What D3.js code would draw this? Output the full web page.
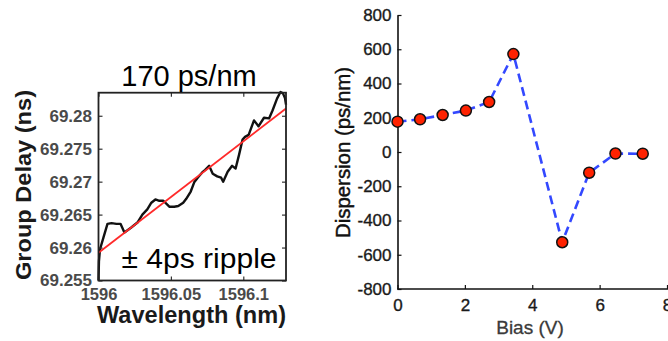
<!DOCTYPE html>
<html><head><meta charset="utf-8">
<script src="https://cdn.jsdelivr.net/npm/d3@7"></script>
<style>body{margin:0;background:#fff;} svg{display:block;font-family:"Liberation Sans",Arial,Helvetica,sans-serif;}</style>
</head><body><svg id="c" width="668" height="341"></svg>
<script>
// ---- Left panel: group delay vs wavelength ----
const gdWavelength = [1596.0000,1596.0003,1596.0010,1596.0034,1596.0062,1596.0090,1596.0124,1596.0152,1596.0179,1596.0224,
  1596.0269,1596.0303,1596.0337,1596.0365,1596.0393,1596.0420,1596.0448,1596.0489,1596.0523,1596.0551,
  1596.0585,1596.0606,1596.0637,1596.0661,1596.0685,1596.0716,1596.0737,1596.0764,1596.0789,1596.0820,
  1596.0847,1596.0861,1596.0892,1596.0923,1596.0947,1596.0971,1596.0995,1596.1012,1596.1037,1596.1074,
  1596.1105,1596.1143,1596.1178,1596.1202,1596.1233,1596.1257,1596.1274,1596.1288,1596.1295];
const gdDelay = [69.2550,69.2579,69.2597,69.2615,69.2636,69.2637,69.2636,69.2636,69.2623,69.2630,
  69.2638,69.2650,69.2658,69.2668,69.2673,69.2671,69.2671,69.2662,69.2662,69.2663,
  69.2668,69.2674,69.2685,69.2699,69.2706,69.2714,69.2718,69.2724,69.2712,69.2708,
  69.2706,69.2700,69.2715,69.2724,69.2720,69.2741,69.2764,69.2768,69.2771,69.2793,
  69.2784,69.2797,69.2796,69.2808,69.2826,69.2836,69.2834,69.2827,69.2817];
const fitWavelength = [1596.0, 1596.1295];
const fitDelay = [69.2592, 69.2811];
const gdXDomain = [1596.0, 1596.1295];
const gdYDomain = [69.255, 69.2835];
const gdXTicks = [1596, 1596.05, 1596.1];
const gdXTickLabels = ["1596", "1596.05", "1596.1"];
const gdYTicks = [69.255, 69.26, 69.265, 69.27, 69.275, 69.28];
const gdYTickLabels = ["69.255", "69.26", "69.265", "69.27", "69.275", "69.28"];
const gdTitle = "170 ps/nm";
const gdNote = "± 4ps ripple";

// ---- Right panel: dispersion vs bias ----
const biasV = [0, 0.67, 1.34, 2.03, 2.72, 3.44, 4.89, 5.69, 6.47, 7.28];
const dispersion = [177, 191, 216, 242, 292, 572, -527, -121, -9, -10];
const dispXTicks = [0, 2, 4, 6, 8];
const dispXTickLabels = ["0", "2", "4", "6", "8"];
const dispYTicks = [-800, -600, -400, -200, 0, 200, 400, 600, 800];
const dispYTickLabels = ["-800", "-600", "-400", "-200", "0", "200", "400", "600", "800"];

const svg = d3.select("#c");

// ===== Left panel =====
const L = {x0: 98.5, x1: 286, y0: 92.7, y1: 280.5};
const lx = d3.scaleLinear().domain(gdXDomain).range([L.x0, L.x1]);
const ly = d3.scaleLinear().domain(gdYDomain).range([L.y1, L.y0]);
const left = svg.append("g");

left.append("path")
  .datum(d3.range(gdWavelength.length))
  .attr("fill", "none").attr("stroke", "#111").attr("stroke-width", 2.4)
  .attr("stroke-linejoin", "round")
  .attr("d", d3.line().x(i => lx(gdWavelength[i])).y(i => ly(gdDelay[i])));
left.append("path")
  .datum(d3.range(fitWavelength.length))
  .attr("fill", "none").attr("stroke", "#ff2a2a").attr("stroke-width", 1.8)
  .attr("d", d3.line().x(i => lx(fitWavelength[i])).y(i => ly(fitDelay[i])));

function styleAxis(g, color, size, weight) {
  g.select(".domain").remove();
  g.selectAll(".tick line").attr("stroke", "#333").attr("stroke-width", 1.2);
  g.selectAll(".tick text").attr("fill", color).style("font-size", size + "px")
    .style("font-weight", weight).style("font-family", '"Liberation Sans",Arial,sans-serif');
}

const lb = left.append("g").attr("transform", `translate(0,${L.y1})`)
  .call(d3.axisBottom(lx).tickValues(gdXTicks).tickFormat((d, i) => gdXTickLabels[i])
    .tickSizeInner(-4).tickSizeOuter(0).tickPadding(8));
styleAxis(lb, "#4a4a4a", 16.5, "bold");
const lt = left.append("g").attr("transform", `translate(0,${L.y0})`)
  .call(d3.axisTop(lx).tickValues(gdXTicks).tickFormat("").tickSizeInner(-4).tickSizeOuter(0));
styleAxis(lt, "#000", 10, "normal");
const ll = left.append("g").attr("transform", `translate(${L.x0},0)`)
  .call(d3.axisLeft(ly).tickValues(gdYTicks).tickFormat((d, i) => gdYTickLabels[i])
    .tickSizeInner(-4).tickSizeOuter(0).tickPadding(6.5));
styleAxis(ll, "#4a4a4a", 17, "bold");
const lr = left.append("g").attr("transform", `translate(${L.x1},0)`)
  .call(d3.axisRight(ly).tickValues(gdYTicks).tickFormat("").tickSizeInner(-4).tickSizeOuter(0));
styleAxis(lr, "#000", 10, "normal");

left.append("rect").attr("x", L.x0).attr("y", L.y0)
  .attr("width", L.x1 - L.x0).attr("height", L.y1 - L.y0)
  .attr("fill", "none").attr("stroke", "#222").attr("stroke-width", 1.8);

left.append("text").attr("x", 189).attr("y", 86).attr("text-anchor", "middle")
  .style("font-size", "29px").attr("fill", "#000").text(gdTitle);
left.append("text").attr("x", 121.5).attr("y", 268).attr("text-anchor", "start")
  .style("font-size", "27px").attr("fill", "#000")
  .attr("textLength", 155).attr("lengthAdjust", "spacingAndGlyphs").text(gdNote);
left.append("text").attr("x", 191.5).attr("y", 323).attr("text-anchor", "middle")
  .style("font-size", "23px").style("font-weight", "bold").attr("fill", "#1a1a1a")
  .attr("textLength", 189).attr("lengthAdjust", "spacingAndGlyphs").text("Wavelength (nm)");
left.append("text").attr("transform", "translate(31,185) rotate(-90)").attr("text-anchor", "middle")
  .style("font-size", "22px").style("font-weight", "bold").attr("fill", "#1a1a1a")
  .attr("textLength", 190).attr("lengthAdjust", "spacingAndGlyphs").text("Group Delay (ns)");

// ===== Right panel =====
const R = {x0: 397.5, x1: 667, y0: 15, y1: 289};
const rx = d3.scaleLinear().domain([0, 8]).range([R.x0, R.x1]);
const ry = d3.scaleLinear().domain([-800, 800]).range([R.y1, R.y0]);
const right = svg.append("g");

const rbx = right.append("g").attr("transform", `translate(0,${R.y1})`)
  .call(d3.axisBottom(rx).tickValues(dispXTicks).tickFormat((d, i) => dispXTickLabels[i])
    .tickSizeInner(-4).tickSizeOuter(0).tickPadding(10));
rbx.select(".domain").attr("stroke", "#111").attr("stroke-width", 1.6).attr("d", `M${R.x0},0H668`);
rbx.selectAll(".tick line").attr("stroke", "#111").attr("stroke-width", 1.2);
rbx.selectAll(".tick text").attr("fill", "#1a1a1a").style("font-size", "17px")
  .attr("stroke", "#1a1a1a").attr("stroke-width", 0.35);

const rly = right.append("g").attr("transform", `translate(${R.x0},0)`)
  .call(d3.axisLeft(ry).tickValues(dispYTicks).tickFormat((d, i) => dispYTickLabels[i])
    .tickSizeInner(-4).tickSizeOuter(0).tickPadding(6));
rly.select(".domain").attr("stroke", "#111").attr("stroke-width", 1.6);
rly.selectAll(".tick line").attr("stroke", "#111").attr("stroke-width", 1.2);
rly.selectAll(".tick text").attr("fill", "#1a1a1a").style("font-size", "17px")
  .attr("stroke", "#1a1a1a").attr("stroke-width", 0.35);

right.append("path")
  .datum(d3.range(biasV.length))
  .attr("fill", "none").attr("stroke", "#3348ff").attr("stroke-width", 2.6)
  .attr("stroke-dasharray", "9,5")
  .attr("d", d3.line().x(i => rx(biasV[i])).y(i => ry(dispersion[i])));

right.selectAll("circle.pt").data(d3.range(biasV.length)).enter().append("circle")
  .attr("class", "pt")
  .attr("cx", i => rx(biasV[i])).attr("cy", i => ry(dispersion[i])).attr("r", 5.5)
  .attr("fill", "#ff2200").attr("stroke", "#111").attr("stroke-width", 1.5);

right.append("text").attr("x", 530).attr("y", 334).attr("text-anchor", "middle")
  .style("font-size", "19px").attr("fill", "#3a3a3a")
  .attr("stroke", "#3a3a3a").attr("stroke-width", 0.3).text("Bias (V)");
right.append("text").attr("transform", "translate(350,152.5) rotate(-90)").attr("text-anchor", "middle")
  .style("font-size", "20.5px").attr("fill", "#111")
  .attr("stroke", "#111").attr("stroke-width", 0.45)
  .attr("textLength", 171).attr("lengthAdjust", "spacingAndGlyphs").text("Dispersion (ps/nm)");
</script></body></html>
